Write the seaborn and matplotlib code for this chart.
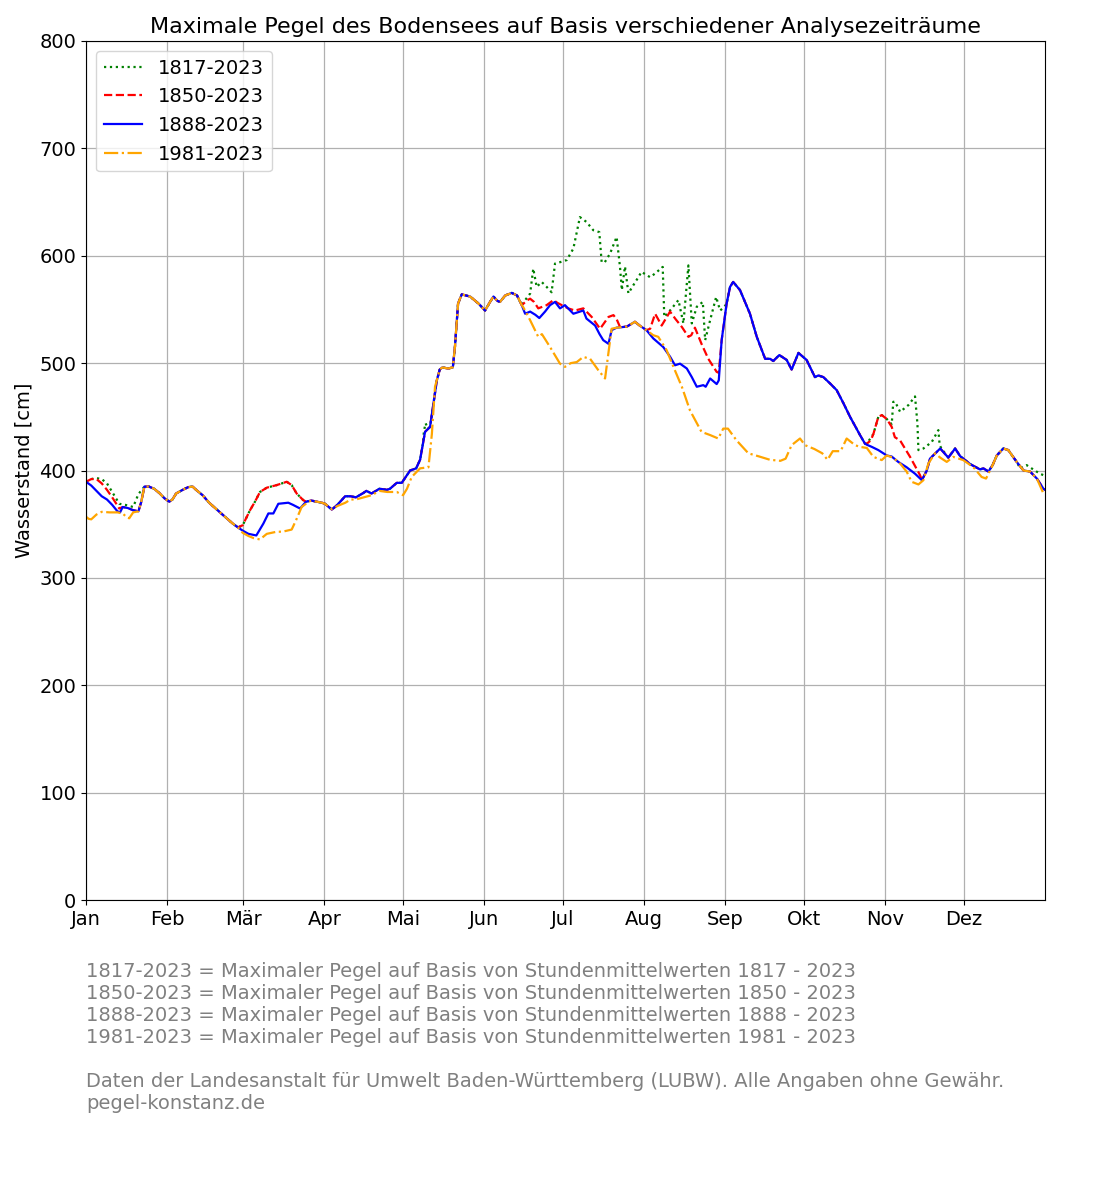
import numpy as np
import pandas as pd
import matplotlib
matplotlib.use("Agg")
import matplotlib.pyplot as plt
import seaborn as sns

# ---------------- data (day of year, 0 = 1 Jan, leap year) ----------------
month_ticks = [0, 31, 60, 91, 121, 152, 182, 213, 244, 274, 305, 335]
month_labels = ["Jan", "Feb", "Mär", "Apr", "Mai", "Jun", "Jul", "Aug", "Sep", "Okt", "Nov", "Dez"]
y_ticks = [0, 100, 200, 300, 400, 500, 600, 700, 800]

# 1888-2023 (full curve)
days_1888 = [0, 2, 4, 6, 8, 10, 12, 13, 14, 16, 18, 20, 21, 22.3, 24, 26, 28, 30, 31.8, 33, 34.4, 36.9,
             39, 40.7, 42, 44.5, 47, 50.9, 53, 56, 58, 59.8, 62, 65, 67.7, 69.6, 71.5, 73.4, 77.2, 79,
             81.7, 84, 86, 88, 90, 91.2, 93.8, 95, 96.3, 98.9, 101, 103, 105.8, 107, 109, 112, 114.8,
             116, 118.6, 120.5, 123.7, 126, 127.5, 128.5, 129.4, 131.3, 132.6, 133.9, 135, 136, 138.2,
             140, 140.8, 142, 143.4, 146.6, 149.8, 152.3, 154.2, 155.5, 157, 158, 160, 162.5, 164.5,
             166.3, 167.6, 169.5, 171.5, 173, 175.2, 177.1, 179, 180.9, 182.8, 186, 188.5, 189.8, 191,
             194.3, 196, 197.4, 199.4, 200.6, 202.5, 206.4, 209.5, 211.3, 213.9, 216.5, 220.3, 222.9,
             224.8, 226.7, 229.3, 231.2, 233.1, 235.6, 236.5, 238.2, 240, 240.7, 241.5, 242.6, 244.5,
             245.8, 247, 249.6, 253.4, 256, 259.2, 261.1, 262.3, 264.6, 267.4, 269.3, 271.9, 275, 278.2,
             279.5, 281.4, 284, 286.5, 289, 291.6, 295.4, 297.3, 298, 299.9, 302.4, 305.6, 307.5, 310,
             313.2, 316.4, 319, 320.9, 322.1, 326, 329.1, 331.7, 333.6, 337.4, 341.2, 342.5, 344.4, 346,
             347.6, 350.1, 352, 355.2, 357.8, 360.3, 362.9, 365.4, 366]
pegel_1888 = [389.5, 386, 381, 376, 373, 368, 362, 361, 366, 365, 363, 362, 370, 385, 385, 383, 379, 374,
              371, 373, 378.6, 382, 384.5, 385, 382, 377, 370, 361.5, 357, 350.6, 347, 344, 341, 339.5,
              350.6, 360, 360, 369, 370, 368, 364.6, 371, 372, 371, 370, 369, 363.7, 366, 369, 376, 376,
              375, 379, 381, 378.6, 383, 382, 383, 388.5, 388.5, 400, 402, 410, 424, 436, 440.6, 462, 484,
              494, 496, 495, 496, 515, 555.5, 564, 562, 555.5, 549, 557, 562, 558, 557, 563, 565.4, 563,
              554, 546, 548, 545, 542, 548, 554, 557, 551, 554, 546, 548, 549, 541.5, 535, 527, 521.4,
              518, 530.7, 533, 534, 538.5, 535, 530.7, 523, 515, 506, 498, 499.5, 495, 487, 478, 479.5,
              478, 485.7, 482, 480.5, 484, 521.4, 555.5, 571, 575.6, 568, 546, 524.5, 504, 504, 502,
              507.5, 503, 494, 509.5, 503, 487, 488.5, 487, 481, 474.8, 463, 450, 433, 425, 424, 422, 419,
              414, 413, 408, 403, 397, 391, 400, 411, 420.5, 412, 420.5, 413.4, 406, 401, 402, 399, 405,
              414, 420.5, 419, 408, 400, 399, 392.5, 383, 382]

# 1817-2023: where it departs from the 1888-2023 curve
seg_1817_jan_d = [0, 2, 3.8, 6, 8, 10, 12.7, 15, 18, 20, 22.3]
seg_1817_jan_v = [389.5, 392, 393, 392, 388, 380, 369, 368, 366, 378, 385]
seg_1817_mar_d = [59.8, 61, 62.6, 64.5, 66.4, 69, 72.8, 76.6, 78.5, 80.4, 82.9, 84]
seg_1817_mar_v = [349, 355, 363, 371, 380, 384, 386.4, 389.5, 386.4, 378.6, 372.4, 371]
seg_1817_mai_d = [129, 129.6, 130.5]
seg_1817_mai_v = [437, 444, 439]
seg_1817_sum_d = [166.3, 167.6, 169.5, 170.7, 171.4, 172, 173.9, 175.8, 177.7, 179, 180.9, 183.5, 186,
                  188.5, 191, 193.6, 195.9, 196.8, 198, 200, 202.5, 203.8, 204.5, 205.7, 207, 208.9,
                  210.8, 212, 215.3, 217.2, 220.1, 220.7, 222.9, 226.1, 228, 229.9, 231.2, 233.1, 235.4,
                  236.3, 238.2, 240.5, 242, 243.5, 244.5]
seg_1817_sum_v = [554, 558.7, 564.8, 588, 578.7, 571, 575.6, 571, 566, 592.7, 594, 596, 606.7, 636,
                  631.5, 623.8, 622, 594, 594, 602, 617.5, 589.6, 568, 590, 565, 572.6, 580, 585, 580,
                  583.5, 589.6, 543, 549, 558.7, 537, 591, 537, 552.5, 557, 521.4, 540, 561.6, 549, 552,
                  555.5]
seg_1817_nov_d = [298, 300.5, 302.4, 303.7, 305.6, 307.5, 308.1, 308.8, 310.7, 313.9, 316.4, 317.3,
                  317.7, 319.6, 322.8, 325.3, 325.8, 326.5]
seg_1817_nov_v = [425, 434, 450, 451.6, 448, 443, 464, 464, 454.6, 461, 469, 444, 419, 420.5, 426.6,
                  437.6, 423.6, 420.5]
seg_1817_dez_d = [355.2, 356.5, 359, 361.5, 364.1, 366]
seg_1817_dez_v = [408, 402, 405, 401, 397, 395]

# 1850-2023: where it departs from the 1888-2023 curve
seg_1850_jan_d = [0, 2, 4, 6, 8, 10, 12.7, 14]
seg_1850_jan_v = [389.5, 392, 392, 388, 382, 375, 364.6, 366]
seg_1850_mar_d = seg_1817_mar_d
seg_1850_mar_v = seg_1817_mar_v
seg_1850_sum_d = [166.3, 168.5, 169.5, 171, 172.6, 175.8, 178.4, 180, 181.6, 184, 186.6, 189.8, 193,
                  196.2, 199.4, 201.3, 202.5, 203.8, 206.4, 209.5, 211.3, 213.9, 215.3, 217.2, 219.7,
                  222.9, 225, 227.4, 229.9, 231, 232.4, 234.9, 237.5, 240.7, 241.5, 242.6]
seg_1850_sum_v = [554, 558.7, 560, 557, 551, 554, 558.7, 556, 554, 551, 549, 551, 543, 532, 543, 544.7,
                  541, 533.7, 534, 538.5, 535, 530.7, 532, 546, 535, 548, 541, 533.7, 524.5, 526, 533,
                  518, 504, 491.8, 491, 521.4]
seg_1850_nov_d = [298, 299.5, 300.5, 302.4, 303.7, 305.6, 307.5, 308.7, 310.7, 314.5, 318.3, 319]
seg_1850_nov_v = [425, 428, 434, 450, 451.6, 448, 440.6, 431, 428, 412.7, 395.7, 391]

# 1981-2023: where it departs from the 1888-2023 curve
seg_1981_jan_d = [0, 1, 2, 4, 6, 9, 12, 14, 15.5, 16.5, 18, 20, 21]
seg_1981_jan_v = [357, 355, 354.5, 359, 361.5, 361, 361, 360, 356.5, 355.5, 361, 362, 370]
seg_1981_spr_d = [58, 59.8, 62, 64, 66.4, 69, 72.8, 75, 78.5, 80.4, 82.3, 85, 86, 88, 90, 91.2, 93.8,
                  96, 99, 101, 103, 106, 109, 112, 115, 118.6, 121, 122.5, 124.3, 127.5, 130.7, 132,
                  133.2, 135]
seg_1981_spr_v = [347, 342, 339, 337, 335.8, 341, 343, 343, 345, 355, 366, 371, 372, 371, 370, 369, 364,
                  367, 370, 373, 373, 375, 377, 381, 380, 380, 377, 383, 394, 402, 403, 434, 478, 494]
seg_1981_sum_d = [166.3, 166.9, 169.5, 172.6, 174, 177.1, 180.9, 182.8, 185, 187.3, 189.8, 192.4,
                  195.5, 198.1, 199.7, 200.6, 202.5]
seg_1981_sum_v = [554, 552, 540, 524.5, 527, 515, 499.5, 496.5, 500, 501, 505.8, 504, 493.5, 485.7,
                  515, 532, 533]
seg_1981_aut_d = [213.9, 216.5, 218.4, 221.6, 224.2, 227.4, 230.5, 234.9, 238.2, 241.3, 243.2, 245,
                  248.3, 252.8, 257, 261, 265, 267, 269.3, 272.5, 274.4, 278, 281, 283, 285, 288,
                  290.3, 293.5, 295.4, 298, 300.5, 303.7, 305.6, 308, 310.7, 313.2, 315.1, 317.7,
                  319.6, 321.5, 324, 326, 328.5, 331, 334.8, 338.7, 341.8, 343.5, 346, 347.6]
seg_1981_aut_v = [530.7, 526, 524.5, 512, 496.5, 478, 456, 436, 433, 429.8, 439, 439, 428, 416, 413,
                  410, 409, 411, 423.6, 429.8, 423.6, 420, 416, 410, 418, 418, 429.8, 423.6, 422, 421,
                  412.7, 409.7, 414, 412, 406.5, 399, 389.5, 387, 391, 406.5, 416, 412, 408, 412.7,
                  409.7, 403, 394, 392.5, 405, 414]
seg_1981_end_d = [362.9, 365.4, 366]
seg_1981_end_v = [392.5, 378.6, 378]

labels = ["1817-2023", "1850-2023", "1888-2023", "1981-2023"]
colors = ["green", "red", "blue", "orange"]
styles = [":", "--", "-", "-."]


def compose(base_d, base_v, segments):
    """Replace the base curve inside each segment's day range with the segment's own points."""
    pts = list(zip(base_d, base_v))
    for sd, sv in segments:
        lo, hi = sd[0], sd[-1]
        pts = [p for p in pts if not (lo <= p[0] <= hi)] + list(zip(sd, sv))
    pts.sort(key=lambda p: p[0])
    return [p[0] for p in pts], [p[1] for p in pts]


d17, v17 = compose(days_1888, pegel_1888, [(seg_1817_jan_d, seg_1817_jan_v), (seg_1817_mar_d, seg_1817_mar_v),
                                          (seg_1817_mai_d, seg_1817_mai_v), (seg_1817_sum_d, seg_1817_sum_v),
                                          (seg_1817_nov_d, seg_1817_nov_v), (seg_1817_dez_d, seg_1817_dez_v)])
d50, v50 = compose(days_1888, pegel_1888, [(seg_1850_jan_d, seg_1850_jan_v), (seg_1850_mar_d, seg_1850_mar_v),
                                          (seg_1850_sum_d, seg_1850_sum_v), (seg_1850_nov_d, seg_1850_nov_v)])
d81, v81 = compose(days_1888, pegel_1888, [(seg_1981_jan_d, seg_1981_jan_v), (seg_1981_spr_d, seg_1981_spr_v),
                                          (seg_1981_sum_d, seg_1981_sum_v), (seg_1981_aut_d, seg_1981_aut_v),
                                          (seg_1981_end_d, seg_1981_end_v)])

series = [(d17, v17), (d50, v50), (days_1888, pegel_1888), (d81, v81)]

# ---------------- plot ----------------
plt.rcParams["font.family"] = ["DejaVu Sans"]
fig = plt.figure(figsize=(11, 12), dpi=100)
ax = fig.add_axes([86 / 1100, 1 - 900 / 1200, (1045 - 86) / 1100, (900 - 41) / 1200])

for (d, v), lab, col, ls in zip(series, labels, colors, styles):
    df = pd.DataFrame({"Tag": d, "Pegel": v})
    sns.lineplot(data=df, x="Tag", y="Pegel", ax=ax, color=col, linestyle=ls, linewidth=1.6,
                 label=lab, sort=True, estimator=None)

ax.set_xlim(0, 366)
ax.set_ylim(0, 800)
ax.set_xticks(month_ticks)
ax.set_xticklabels(month_labels)
ax.set_yticks(y_ticks)
ax.tick_params(labelsize=14)
ax.grid(True, color="#b0b0b0", linewidth=0.9)
ax.set_axisbelow(True)
ax.set_xlabel("")
ax.set_ylabel("Wasserstand [cm]", fontsize=14)
ax.set_title("Maximale Pegel des Bodensees auf Basis verschiedener Analysezeiträume", fontsize=16, pad=6)
leg = ax.legend(loc="upper left", fontsize=14)

note = ("1817-2023 = Maximaler Pegel auf Basis von Stundenmittelwerten 1817 - 2023\n"
        "1850-2023 = Maximaler Pegel auf Basis von Stundenmittelwerten 1850 - 2023\n"
        "1888-2023 = Maximaler Pegel auf Basis von Stundenmittelwerten 1888 - 2023\n"
        "1981-2023 = Maximaler Pegel auf Basis von Stundenmittelwerten 1981 - 2023\n"
        "\n"
        "Daten der Landesanstalt für Umwelt Baden-Württemberg (LUBW). Alle Angaben ohne Gewähr.\n"
        "pegel-konstanz.de")
fig.text(86 / 1100, 1 - 962 / 1200, note, fontsize=14, color="gray", va="top", ha="left")

fig.savefig("out.png", dpi=100)
